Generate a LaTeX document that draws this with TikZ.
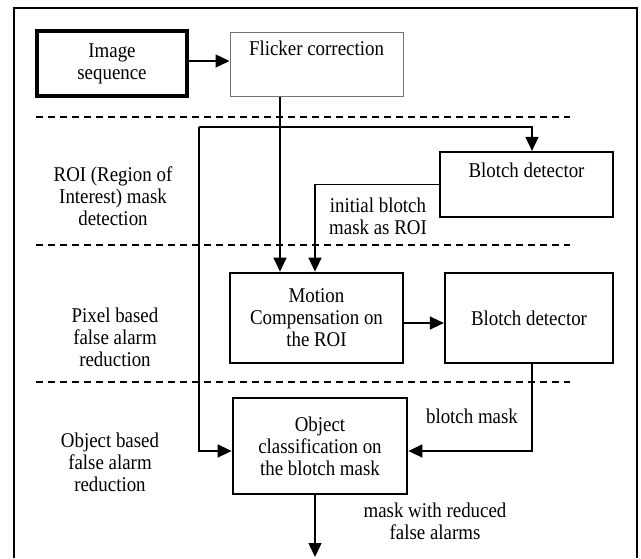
\documentclass[tikz,border=0pt]{standalone}
\usepackage{fontspec}
\setmainfont[FakeStretch=0.9]{Liberation Serif}
\usetikzlibrary{arrows.meta}
\newcommand{\diagfont}{\fontsize{21}{22}\selectfont}
\begin{document}
\begin{tikzpicture}[x=1pt,y=-1pt,
  box/.style={draw, line width=2.2pt, inner sep=0pt, align=center, font=\diagfont},
  txt/.style={inner sep=0pt, align=center, font=\diagfont},
  arr/.style={line width=1.5pt, -{Triangle[length=14pt,width=13pt]}},
  sep/.style={line width=1.5pt, dash pattern=on 7pt off 5pt},
  frame/.style={line width=2pt}
]
\useasboundingbox (0,0) rectangle (641,558);
% outer frame (open at bottom)
\coordinate (fa) at (14,558);
\coordinate (fb) at (14,8);
\coordinate (fc) at (637,8);
\coordinate (fd) at (637,558);
\draw[frame] (fa) -- (fb) -- (fc) -- (fd);

% separators
\coordinate (s1a) at (36,117); \coordinate (s1b) at (570,117);
\coordinate (s2a) at (36,245); \coordinate (s2b) at (570,245);
\coordinate (s3a) at (36,382); \coordinate (s3b) at (570,382);
\draw[sep] (s1a) -- (s1b);
\draw[sep] (s2a) -- (s2b);
\draw[sep] (s3a) -- (s3b);

% boxes
\node[box, line width=4.5pt, minimum width=150pt, minimum height=65pt] (img) at (112,63.5) {Image\\sequence};
\node[box, draw=black!55, line width=1pt, minimum width=173pt, minimum height=64pt] (flick) at (316.5,64) {};
\node[txt] (flickt) at (316.5,48) {Flicker correction};
\node[box, minimum width=173pt, minimum height=65pt] (bd1) at (526.5,184.5) {};
\node[txt] (bd1t) at (526.5,170) {Blotch detector};
\node[box, line width=2.8pt, minimum width=173pt, minimum height=90pt] (mc) at (316.5,318) {Motion\\Compensation on\\the ROI};
\node[box, minimum width=168pt, minimum height=90pt] (bd2) at (529,318) {Blotch detector};
\node[box, line width=2.8pt, minimum width=174pt, minimum height=96pt] (obj) at (320,446) {Object\\classification on\\the blotch mask};

% side labels
\node[txt] (l1) at (113,196) {ROI (Region of\\Interest) mask\\detection};
\node[txt] (l2) at (115,337) {Pixel based\\false alarm\\reduction};
\node[txt] (l3) at (110,462) {Object based\\false alarm\\reduction};

% connector labels
\node[txt] (c1) at (378,216) {initial blotch\\mask as ROI};
\node[txt] (c2) at (472,416) {blotch mask};
\node[txt] (c3) at (435,521) {mask with reduced\\false alarms};

% connectors
\draw[arr] (img.east |- 0,61) -- (flick.west |- 0,61);
\draw[arr] (flick.south -| 280,0) -- (mc.north -| 280,0);
\coordinate (j1) at (199,127);
\draw[arr] (j1) -- (532,127) -- (bd1.north -| 532,0);
\draw[arr] (j1) |- (obj.west |- 0,451);
\draw[arr] (bd1.west) -| (mc.north -| 315,0);
\draw[arr] (mc.east |- 0,323) -- (bd2.west |- 0,323);
\draw[arr] (bd2.south -| 532,0) |- (obj.east |- 0,451);
\coordinate (out) at (315,557);
\draw[arr] (obj.south -| 315,0) -- (out);
\end{tikzpicture}
\end{document}
